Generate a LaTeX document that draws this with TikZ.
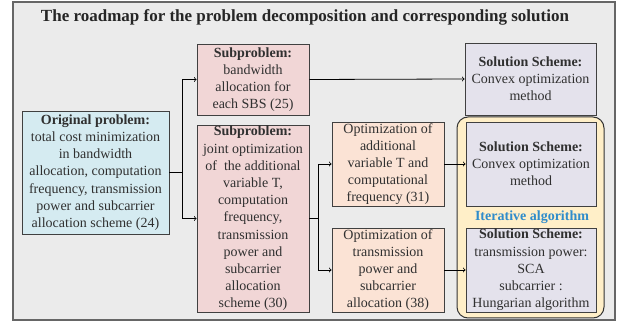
\documentclass[tikz,border=0pt]{standalone}
\usepackage{fontspec}
\setmainfont{Liberation Serif}
\definecolor{framegray}{HTML}{EBEBEB}
\definecolor{origblue}{HTML}{D5EBF1}
\definecolor{subpink}{HTML}{F1D6D6}
\definecolor{optpeach}{HTML}{FBE3D5}
\definecolor{sollilac}{HTML}{E4E2EC}
\definecolor{iteryellow}{HTML}{FFEFC8}
\definecolor{iterblue}{HTML}{2F8CCB}
\definecolor{textgray}{HTML}{303030}
\tikzset{
  box/.style={draw=black!75,line width=0.9pt,align=center,inner sep=1pt,text=textgray,
    font=\fontsize{14}{17.2}\selectfont},
  link/.style={->,>=to,line width=0.8pt}
}
\begin{document}
\begin{tikzpicture}[x=1pt,y=-1pt]
	\useasboundingbox (0,0) rectangle (624,328);
	\draw[fill=framegray,draw=black!60,line width=1.2pt] (13,2) rectangle (615,320);
	\node[font=\fontsize{17}{20}\selectfont\bfseries,text=black!85] (title) at (305,17) {The roadmap for the problem decomposition and corresponding solution};
	\draw[fill=iteryellow,draw=black!80,line width=1pt,rounded corners=11pt] (457,117) rectangle (604,318);
	\node[box,fill=origblue,minimum width=147pt,minimum height=123pt] (orig) at (95.5,172.5) {\textbf{Original problem:}\\total cost minimization\\in bandwidth\\allocation, computation\\frequency, transmission\\power and subcarrier\\allocation scheme (24)};
	\node[box,fill=subpink,minimum width=112pt,minimum height=71pt] (sub1) at (253,79.5) {\textbf{Subproblem:}\\bandwidth\\allocation for\\each SBS (25)};
	\node[box,fill=subpink,minimum width=112pt,minimum height=187pt] (sub2) at (253,218.5) {\textbf{Subproblem:}\\joint optimization\\of~ the additional\\variable T,\\computation\\frequency,\\transmission\\power and\\subcarrier\\allocation\\scheme (30)};
	\node[box,fill=optpeach,minimum width=112pt,minimum height=84pt] (opt1) at (388,164) {Optimization of\\additional\\variable T and\\computational\\frequency (31)};
	\node[box,fill=optpeach,minimum width=112pt,minimum height=84pt] (opt2) at (388,270) {Optimization of\\transmission\\power and\\subcarrier\\allocation (38)};
	\node[box,fill=sollilac,minimum width=131pt,minimum height=72pt] (sol1) at (530.5,79) {\textbf{Solution Scheme:}\\Convex optimization\\method};
	\node[box,fill=sollilac,minimum width=130pt,minimum height=84pt] (sol2) at (531,164) {\textbf{Solution Scheme:}\\Convex optimization\\method};
	\node[box,fill=sollilac,minimum width=130pt,minimum height=84pt] (sol3) at (531,270) {\textbf{Solution Scheme:}\\transmission power:\\SCA\\subcarrier :\\Hungarian algorithm};
	\node[font=\fontsize{14}{17}\selectfont\bfseries,text=iterblue] (iter) at (532,217) {Iterative algorithm};
	\coordinate (split1) at (182,172.5);
	\coordinate (split2) at (318,218.5);
	\draw[line width=0.8pt] (orig.east)--(split1) (sub2.east)--(split2);
	\foreach \a/\b in {split1/sub1,split1/sub2,split2/opt1,split2/opt2}\draw[link] (\a) |- (\b.west);
	\foreach \a/\b in {sub1/sol1,opt1/sol2,opt2/sol3}\draw[link] (\a.east)--(\b.west);
\end{tikzpicture}
\end{document}
